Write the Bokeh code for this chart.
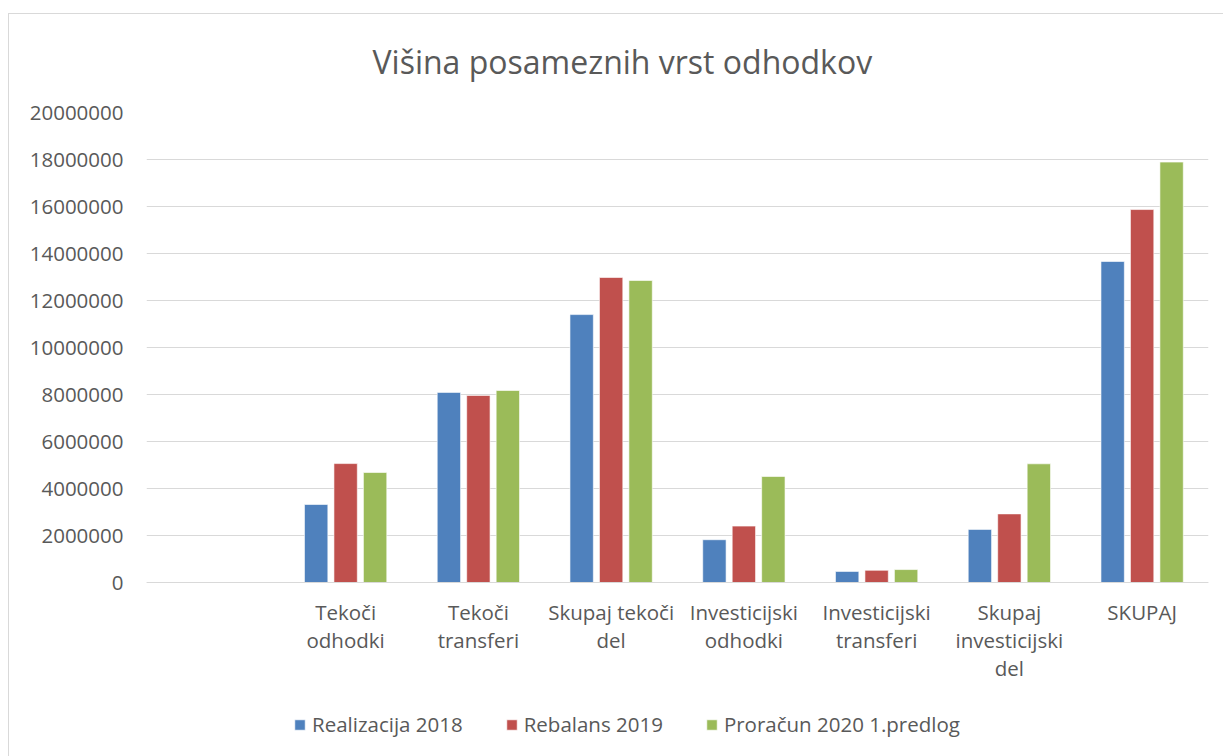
from bokeh.plotting import figure
from bokeh.models import ColumnDataSource, FactorRange, Range1d, Legend, LegendItem, FixedTicker
from bokeh.transform import dodge
from bokeh.embed import file_html
from bokeh.resources import INLINE

# ---- data ----
categories = ["Tekoči\nodhodki", "Tekoči\ntransferi", "Skupaj tekoči\ndel",
              "Investicijski\nodhodki", "Investicijski\ntransferi",
              "Skupaj\ninvesticijski\ndel", "SKUPAJ"]
realizacija_2018 = [3320000, 8090000, 11400000, 1820000, 470000, 2260000, 13660000]
rebalans_2019 = [5060000, 7960000, 12980000, 2400000, 520000, 2920000, 15870000]
proracun_2020 = [4680000, 8170000, 12850000, 4510000, 550000, 5050000, 17890000]
series_names = ["Realizacija 2018", "Rebalans 2019", "Proračun 2020 1.predlog"]
title_text = "Višina posameznih vrst odhodkov"
y_ticks = [0, 2000000, 4000000, 6000000, 8000000, 10000000,
           12000000, 14000000, 16000000, 18000000, 20000000]

colors = ["#4F81BD", "#C0504D", "#9BBB59"]
FONT = "Open Sans"
TXT = "#595959"
GRID = "#D9D9D9"

# layout (pixels)
W, H = 1223, 756
TOP, BOTTOM0, LEFT, RIGHT = 112, 582, 146, 1208
y_max = y_ticks[-1]
y_min = -(H - BOTTOM0) / (BOTTOM0 - TOP) * y_max   # room below zero for labels & legend

factors = [" "] + categories
src = ColumnDataSource(dict(cat=categories, a=realizacija_2018, b=rebalans_2019, c=proracun_2020))

p = figure(x_range=FactorRange(*factors, range_padding=0), y_range=Range1d(y_min, y_max),
           width=W, height=H, output_backend="svg", toolbar_location=None,
           min_border_left=LEFT, min_border_right=W - RIGHT, min_border_top=TOP, min_border_bottom=0,
           background_fill_color="white", border_fill_color=None,
           title=title_text)
p.outline_line_color = None
# thin chart-area border (left and top edges visible in the reference)
p.styles = {
    "background-color": "white",
    "background-image": "linear-gradient(#D9D9D9, #D9D9D9), linear-gradient(#D9D9D9, #D9D9D9)",
    "background-position": "8px 13px, 8px 13px",
    "background-size": "1px 100%, 100% 1px",
    "background-repeat": "no-repeat",
}

p.title.text_font = FONT
p.title.text_font_size = "32px"
p.title.text_font_style = "normal"
p.title.text_color = TXT
p.title.align = "left"
p.title.offset = 226
p.title.standoff = 60

w = 0.176
off = 0.222
renderers = []
for key, dx, col in zip(["a", "b", "c"], [-off, 0, off], colors):
    r = p.vbar(x=dodge("cat", dx, range=p.x_range), top=key, width=w, source=src,
               fill_color=col, line_color="white", line_width=1, line_alpha=0.6)
    renderers.append(r)

# axes
p.yaxis.ticker = FixedTicker(ticks=y_ticks)
p.yaxis.axis_line_color = None
p.yaxis.major_tick_line_color = None
p.yaxis.minor_tick_line_color = None
p.yaxis.major_tick_out = 0
p.yaxis.major_tick_in = 0
p.yaxis.major_label_standoff = 23
p.yaxis.major_label_text_font = FONT
p.yaxis.major_label_text_font_size = "20.5px"
p.yaxis.major_label_text_color = TXT
p.yaxis.formatter.use_scientific = False

p.xaxis.fixed_location = 0
p.xaxis.axis_line_color = GRID
p.xaxis.axis_line_width = 1
p.xaxis.major_tick_line_color = None
p.xaxis.minor_tick_line_color = None
p.xaxis.major_tick_out = 0
p.xaxis.major_tick_in = 0
p.xaxis.major_label_standoff = 15
p.xaxis.major_label_text_font = FONT
p.xaxis.major_label_text_font_size = "20.5px"
p.xaxis.major_label_text_color = TXT
p.xaxis.major_label_text_line_height = 1.0

p.xgrid.grid_line_color = None
p.ygrid.grid_line_color = GRID
p.ygrid.grid_line_width = 1

legend = Legend(items=[LegendItem(label=n, renderers=[r]) for n, r in zip(series_names, renderers)],
                orientation="horizontal", location=(147, 18),
                glyph_width=13, glyph_height=13, label_standoff=6, spacing=42,
                padding=0, margin=0, border_line_color=None, background_fill_alpha=0,
                label_text_font=FONT, label_text_font_size="20.5px", label_text_color=TXT)
p.add_layout(legend, "center")

open("out.html", "w").write(file_html(p, INLINE))
